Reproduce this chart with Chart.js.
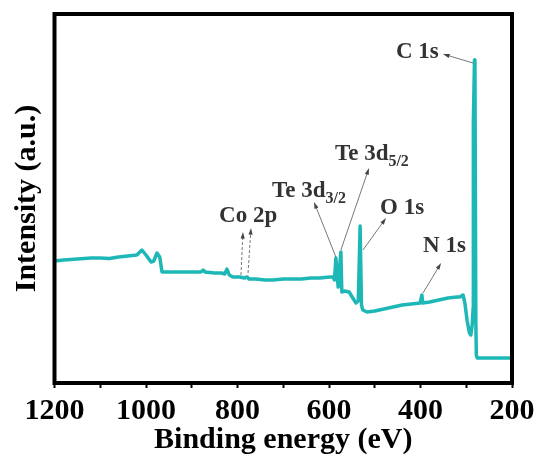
<!DOCTYPE html>
<html>
<head>
<meta charset="utf-8">
<script src="https://cdn.jsdelivr.net/npm/chart.js@4.4.0/dist/chart.umd.min.js"></script>
<style>
  html, body { margin: 0; padding: 0; background: #fff; }
  #wrap { width: 541px; height: 459px; }
</style>
</head>
<body>
<div id="wrap"><canvas id="xps"></canvas></div>
<script>
// survey spectrum (intensity in arbitrary units)
const energies = [
  1200, 1180, 1150, 1120, 1100, 1080, 1060, 1040, 1020, 1009, 1000, 989, 983, 976, 970, 965,
  955, 930, 900, 880, 875, 871, 850, 835, 828, 823, 818, 810, 795, 785, 779, 775,
  760, 740, 722, 700, 680, 660, 640, 620, 598, 591, 588, 585, 580, 574, 572, 566,
  556, 548, 541, 536, 532, 529, 526, 517, 500, 480, 460, 440, 420, 401, 397, 395,
  380, 360, 340, 320, 314, 307, 303, 298, 293, 290, 287, 285, 284.5, 282, 281, 279,
  278, 276, 260, 240, 220, 200
];
const intensities = [
  122, 123, 124, 125, 125, 124.5, 126, 127, 128, 133, 128, 121, 122, 130, 126, 111,
  111, 111, 111, 111, 113, 111, 110, 110, 109, 114, 108, 106, 106, 105, 106, 104,
  104, 103, 103, 104, 104, 104, 105, 105, 106, 106, 103, 125, 96, 131, 91, 92,
  91, 85, 80, 82, 157, 78, 73, 71, 72, 74, 76, 78, 79, 80, 88, 80,
  81, 83, 85, 86, 86, 88, 80, 62, 50, 48, 58, 75, 260, 323, 318, 60,
  28, 25, 25, 25, 25, 25
];
const xTicks = [1200, 1000, 800, 600, 400, 200];

// peak labels: name, subscript, where the text starts (eV, intensity)
const peakNames = ['C 1s', 'Te 3d', 'Te 3d', 'O 1s', 'N 1s', 'Co 2p'];
const peakSubs = ['', '5/2', '3/2', '', '', ''];
const peakTextAt = [[453.6, 325], [587, 223], [724.6, 186], [488.5, 169], [394.5, 131], [840.4, 161]];
// arrows: from (eV, intensity) to (eV, intensity)
const arrows = [
  [285.2, 320, 351, 329],
  [574, 133, 512.6, 215],
  [585, 126, 632.8, 181],
  [525.7, 133, 475.4, 165],
  [394.5, 90, 355, 120],
  [792.4, 108, 788, 151],
  [777, 110, 770.5, 155]
];

const serif = 'Liberation Serif, Times New Roman, serif';

function drawArrow(ctx, x1, y1, x2, y2, dashed) {
  ctx.save();
  ctx.strokeStyle = '#555';
  ctx.fillStyle = '#444';
  ctx.lineWidth = 0.8;
  if (dashed) ctx.setLineDash([3, 2]);
  let ang = Math.atan2(y2 - y1, x2 - x1);
  let hl = 7;
  ctx.beginPath();
  ctx.moveTo(x1, y1);
  ctx.lineTo(x2 - Math.cos(ang) * hl * 0.8, y2 - Math.sin(ang) * hl * 0.8);
  ctx.stroke();
  ctx.setLineDash([]);
  ctx.beginPath();
  ctx.moveTo(x2, y2);
  ctx.lineTo(x2 - hl * Math.cos(ang - 0.3), y2 - hl * Math.sin(ang - 0.3));
  ctx.lineTo(x2 - hl * Math.cos(ang + 0.3), y2 - hl * Math.sin(ang + 0.3));
  ctx.closePath();
  ctx.fill();
  ctx.restore();
}

const framePlugin = {
  id: 'frame',
  afterDraw(chart) {
    let ctx = chart.ctx;
    let a = chart.chartArea;
    let xs = chart.scales.x;
    let ys = chart.scales.y;

    ctx.save();
    ctx.strokeStyle = '#000';
    ctx.lineWidth = 4;
    ctx.strokeRect(a.left, a.top, a.right - a.left, a.bottom - a.top);

    ctx.fillStyle = '#333';
    ctx.textBaseline = 'alphabetic';
    ctx.textAlign = 'left';
    peakNames.forEach((name, i) => {
      let px = xs.getPixelForValue(peakTextAt[i][0]);
      let py = ys.getPixelForValue(peakTextAt[i][1]);
      ctx.font = 'bold 23px ' + serif;
      ctx.fillText(name, px, py);
      if (peakSubs[i]) {
        let w = ctx.measureText(name).width;
        ctx.font = 'bold 16px ' + serif;
        ctx.fillText(peakSubs[i], px + w, py + 6);
      }
    });

    arrows.forEach((r, i) => {
      drawArrow(ctx,
        xs.getPixelForValue(r[0]), ys.getPixelForValue(r[1]),
        xs.getPixelForValue(r[2]), ys.getPixelForValue(r[3]),
        i >= 5);
    });
    ctx.restore();
  }
};

let ctx = document.getElementById('xps');
let chart = new Chart(ctx, {
  type: 'line',
  data: {
    datasets: [{
      data: energies.map((e, i) => ({ x: e, y: intensities[i] })),
      borderColor: '#1db8b6',
      borderWidth: 3.5,
      borderJoinStyle: 'round',
      pointRadius: 0,
      tension: 0,
      fill: false
    }]
  },
  options: {
    responsive: true,
    maintainAspectRatio: false,
    animation: false,
    devicePixelRatio: 1,
    layout: { padding: { top: 14, right: 29, left: 0, bottom: 0 } },
    plugins: {
      legend: { display: false },
      tooltip: { enabled: false }
    },
    scales: {
      x: {
        type: 'linear',
        reverse: true,
        min: 200,
        max: 1200,
        border: { display: false },
        grid: {
          drawOnChartArea: false,
          drawTicks: true,
          tickLength: 5,
          tickWidth: 2,
          tickColor: '#000'
        },
        ticks: {
          stepSize: 100,
          autoSkip: false,
          maxRotation: 0,
          padding: 5,
          color: '#000',
          font: { family: serif, size: 30, weight: 'bold' },
          callback: v => xTicks.includes(v) ? String(v) : ''
        },
        title: {
          display: true,
          text: 'Binding energy (eV)',
          color: '#000',
          font: { family: serif, size: 30, weight: 'bold' },
          padding: { top: 0, bottom: 1 }
        },
        afterFit: s => { s.height = 76; }
      },
      y: {
        min: 0,
        max: 369,
        border: { display: false },
        grid: { display: false },
        ticks: { display: false },
        title: {
          display: true,
          text: 'Intensity (a.u.)',
          color: '#000',
          font: { family: serif, size: 30, weight: 'bold' },
          padding: { top: 9, bottom: 0 }
        },
        afterFit: s => { s.width = 54.5; }
      }
    }
  },
  plugins: [framePlugin]
});
</script>
</body>
</html>
